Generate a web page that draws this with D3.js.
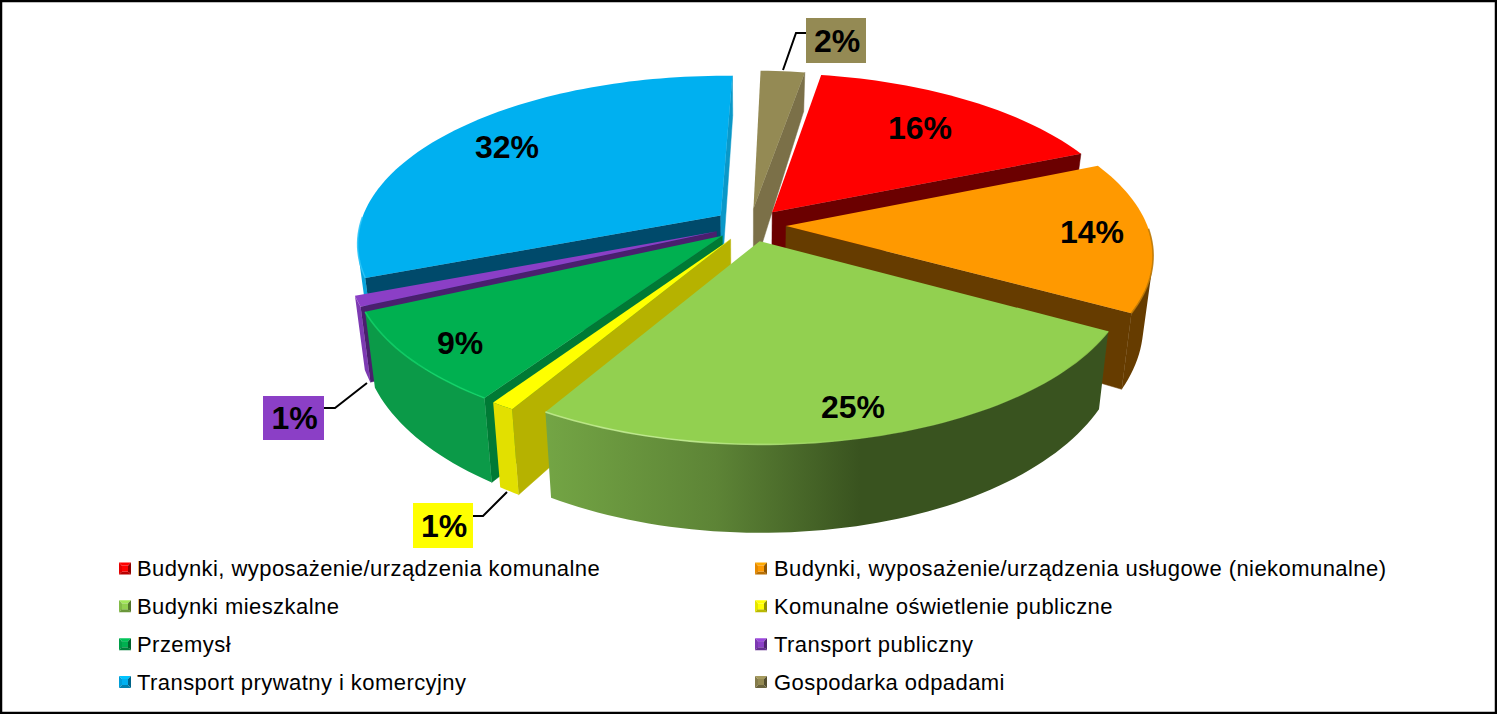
<!DOCTYPE html>
<html><head><meta charset="utf-8">
<script src="https://cdnjs.cloudflare.com/ajax/libs/d3/7.8.5/d3.min.js"></script>
<style>html,body{margin:0;padding:0;background:#fff}svg{display:block}text{font-family:"Liberation Sans",Arial,sans-serif;fill:#000}</style>
</head><body><svg id="c" width="1497" height="714"></svg>
<script>
const categories=["Budynki, wyposażenie/urządzenia komunalne","Budynki, wyposażenie/urządzenia usługowe (niekomunalne)","Budynki mieszkalne","Komunalne oświetlenie publiczne","Przemysł","Transport publiczny","Transport prywatny i komercyjny","Gospodarka odpadami"];
const values=[16,14.4,25.35,0.9,8.75,1,31.3,2.3];
const labels=["16%","14%","25%","1%","9%","1%","32%","2%"];
const colors=["#ff0000","#ff9900","#92d050","#ffff00","#00b050","#8b3fc6","#00b0f0","#948a54"];
const outerFrom=["#800000","#6b3e00","#74a645","#e2e000","#0b9a48","#7d3ab2","#08a4dc","#7b7048"];
const outerMid =["#800000","#6b3e00","#5d8436","#dcdc00","#008a3e","#7d3ab2","#08a4dc","#7b7048"];
const outerTo  =["#800000","#663c00","#39531f","#d6d600","#007f38","#7d3ab2","#08a4dc","#7b7048"];
const startWall=["#6b0000","#663c00","#3a5222","#b6b200","#007a35","#4a1f6e","#004a6b","#7b7048"];
const endWall  =["#6b0000","#663c00","#3a5222","#b6b200","#007a35","#4a1f6e","#0a98c8","#7b7048"];
const rim=[null,"#b87400","#c2ec92",null,"#10d468",null,"#28c4f8",null];
const rimEnd=[null,"#b87400","#92d050",null,"#10d468",null,"#28c4f8",null];
const drawOrder=[7,6,0,1,5,4,3,2];
// layout
const cx=750,cy=225,R=361,T=165,P=0.16,Q=0.024,H0=65,H1=27,EXPL=0.1,START=9.7;
const innerLabels=[[920,128],[1092,232],[853,407],null,[460,343],null,[507,147],null];
const boxes=[null,null,null,{x:413,y:503,w:60,h:45,path:[[507,492],[483,516],[473,516]]},null,{x:263,y:396,w:61,h:44,path:[[367,383],[335,408],[324,408]]},null,{x:806,y:18,w:60,h:45,path:[[783,70],[796,33],[806,33]]}];

const svg=d3.select("#c"),defs=svg.append("defs");
const rad=d3.scaleLinear().domain([0,360]).range([0,2*Math.PI]);
const pie=d3.pie().sort(null).startAngle(rad(START)).endAngle(rad(START+360));
const arcs=pie(values);
function proj(X,Y,z){const d=1+P*Y+Q*z;return [cx+R*X/d,cy-T*Y/d+z*(H0-H1*Y)];}
const line=d3.line();
const area=d3.polygonArea;
function gradient(id,stops){
  const lg=defs.append("linearGradient").attr("id",id).attr("gradientUnits","userSpaceOnUse")
    .attr("x1",540).attr("x2",860).attr("y1",0).attr("y2",0);
  stops.forEach(([o,c])=>lg.append("stop").attr("offset",o).attr("stop-color",c));
}

const gPie=svg.append("g");
drawOrder.forEach(i=>{
  const a=arcs[i],mid=(a.startAngle+a.endAngle)/2;
  const ox=EXPL*Math.sin(mid),oy=EXPL*Math.cos(mid);
  const pt=(r,t,z)=>proj(ox+r*Math.sin(t),oy+r*Math.cos(t),z);
  const n=Math.max(4,Math.ceil((a.endAngle-a.startAngle)/rad(1.5)));
  const steps=d3.range(0,n+1);
  const ang=d3.scaleLinear().domain([0,n]).range([a.startAngle,a.endAngle]);
  const g=gPie.append("g");
  const top=steps.map(s=>pt(1,ang(s),0));
  gradient("w"+i,[[0,outerFrom[i]],[0.55,outerMid[i]],[1,outerTo[i]]]);
  const face=(t,sign,col)=>{
    const q=[pt(0,t,0),pt(1,t,0),pt(1,t,1),pt(0,t,1)];
    if(area(q)*sign>0) g.append("path").attr("d",line(q)+"Z").attr("fill",col).attr("stroke",col).attr("stroke-width",0.5);
  };
  face(a.startAngle,1,startWall[i]);
  face(a.endAngle,-1,endWall[i]);
  const facing=d3.pairs(steps).filter(([s,u])=>area([pt(1,ang(s),0),pt(1,ang(u),0),pt(1,ang(u),1),pt(1,ang(s),1)])>0);
  if(facing.length){
    const idx=[facing[0][0],...facing.map(f=>f[1])];
    const poly=[...idx.map(s=>pt(1,ang(s),0)),...idx.slice().reverse().map(s=>pt(1,ang(s),1))];
    g.append("path").attr("d",line(poly)+"Z").attr("fill",`url(#w${i})`);
  }
  g.append("path").attr("d",line([pt(0,a.startAngle,0),...top])+"Z").attr("fill",colors[i]);
  if(rim[i]){
    gradient("r"+i,[[0,rim[i]],[0.45,rim[i]],[1,rimEnd[i]]]);
    const pts=steps.filter(s=>Math.cos(ang(s))<0.0).map(s=>pt(1,ang(s),0));
    g.append("path").attr("d",line(pts)).attr("fill","none").attr("stroke",`url(#r${i})`).attr("stroke-width",1.6).attr("opacity",0.85);
  }
});

const gLab=svg.append("g");
boxes.forEach((b,i)=>{
  if(!b) return;
  gLab.append("path").attr("d",line(b.path)).attr("fill","none").attr("stroke","#000").attr("stroke-width",2);
  gLab.append("rect").attr("x",b.x).attr("y",b.y).attr("width",b.w).attr("height",b.h).attr("fill",colors[i]);
  gLab.append("text").attr("x",b.x+b.w/2+1).attr("y",b.y+b.h/2+11).attr("text-anchor","middle").attr("font-size",32).attr("font-weight","bold").text(labels[i]);
});
innerLabels.forEach((p,i)=>{
  if(!p) return;
  gLab.append("text").attr("x",p[0]).attr("y",p[1]+11).attr("text-anchor","middle").attr("font-size",32).attr("font-weight","bold").text(labels[i]);
});

const colX=d3.scaleOrdinal().domain([0,1]).range([119,755]);
const textX=d3.scaleOrdinal().domain([0,1]).range([137,774]);
const rowY=d3.scalePoint().domain([0,1,2,3]).range([568.5,682]);
const S=12,IN=3;
const gLeg=svg.append("g");
categories.forEach((c,i)=>{
  const col=i%2,row=(i-col)/2,x=colX(col),y=rowY(row)-S/2;
  const base=d3.color(colors[i]);
  const a=[x,y],b=[x+S,y],d=[x+S,y+S],e=[x,y+S];
  const ci=[x+IN,y+IN],cj=[x+S-IN,y+IN],ck=[x+S-IN,y+S-IN],cl=[x+IN,y+S-IN];
  const g=gLeg.append("g");
  g.append("path").attr("d",line([a,b,cj,ci])+"Z").attr("fill",base.brighter(0.3));
  g.append("path").attr("d",line([a,ci,cl,e])+"Z").attr("fill",base.darker(0.3));
  g.append("path").attr("d",line([b,d,ck,cj])+"Z").attr("fill",base.darker(1.6));
  g.append("path").attr("d",line([e,d,ck,cl])+"Z").attr("fill",base.darker(0.9));
  g.append("path").attr("d",line([ci,cj,ck,cl])+"Z").attr("fill",base);
  gLeg.append("text").attr("x",textX(col)).attr("y",rowY(row)+7.5).attr("font-size",22).attr("letter-spacing",0.44).text(c);
});

svg.append("rect").attr("x",1).attr("y",1).attr("width",1495).attr("height",712).attr("fill","none").attr("stroke","#000").attr("stroke-width",2.5);
</script></body></html>
